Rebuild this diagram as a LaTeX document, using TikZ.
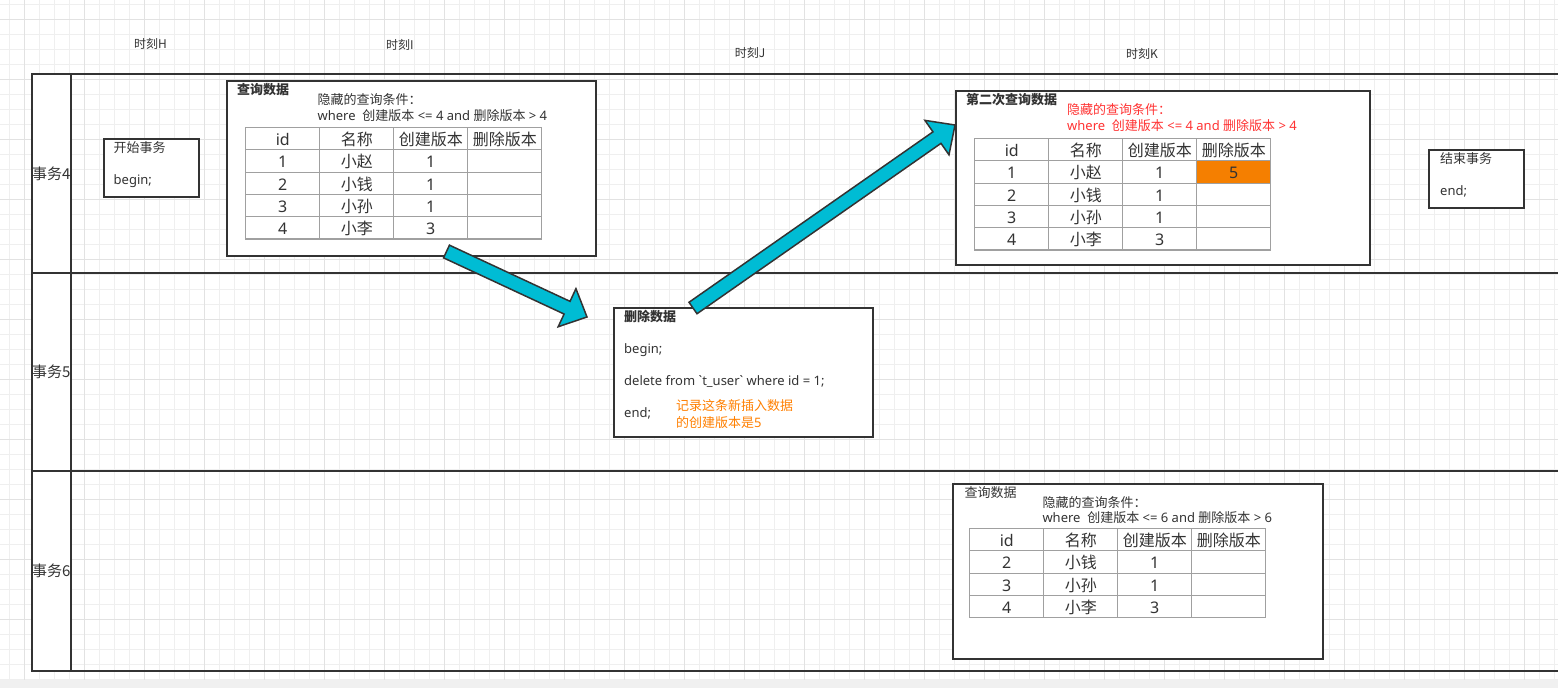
\documentclass[tikz,border=0pt]{standalone}
\usepackage{fontspec}
\newfontfamily\cjk{Noto Sans CJK SC}
\newfontfamily\lat{Noto Sans}
\newcommand{\zh}[1]{{\cjk #1}}
\usetikzlibrary{calc,matrix}
\definecolor{ink}{HTML}{333333}
\definecolor{gridminor}{HTML}{EFEFEF}
\definecolor{gridmajor}{HTML}{E2E2E2}
\definecolor{bandgray}{HTML}{F0F0F0}
\definecolor{tblgray}{HTML}{A0A0A0}
\definecolor{arrowcyan}{HTML}{00BCD4}
\definecolor{alertred}{HTML}{FF3333}
\definecolor{noteorange}{HTML}{FF8000}
\definecolor{cellorange}{HTML}{F57F00}

\tikzset{
  txt/.style={font=\lat\fontsize{13}{15.6}\selectfont, text=ink, inner sep=0pt, anchor=base west},
  ttl/.style={txt, font=\cjk\bfseries\fontsize{13}{15.6}\selectfont},
  tick/.style={font=\cjk\fontsize{12}{14}\selectfont, text=ink, inner sep=0pt, anchor=base},
  box/.style={draw=ink, line width=2pt, fill=white, outer sep=0pt, inner sep=0pt, anchor=north west},
  lanehead/.style={box, minimum width=39.2, font=\cjk\fontsize{15}{18}\selectfont, text=ink},
  lane/.style={draw=ink, line width=2pt},
  tbl/.style={matrix of nodes, nodes in empty cells, anchor=north west, inner sep=0pt,
    column sep=-1.2pt, row sep=-1.2pt,
    nodes={draw=tblgray, line width=1.2pt, fill=white, minimum width=74, minimum height=22.3,
      inner sep=0pt, text height=15pt, text depth=1pt, anchor=center,
      font=\lat\fontsize{16}{18}\selectfont, text=ink}},
  cyanarrow/.style={fill=arrowcyan, draw=ink, line width=1.5pt, line join=miter}
}

\newcommand{\fatarrow}[2]{%
  \path ($(#2)!22pt!(#1)$) coordinate (fab);
  \filldraw[cyanarrow] ($(#1)!7pt!90:(#2)$) -- ($(fab)!7pt!-90:(#1)$) -- ($(fab)!21pt!-90:(#1)$)
    -- (#2) -- ($(fab)!21pt!90:(#1)$) -- ($(fab)!7pt!90:(#1)$) -- ($(#1)!7pt!-90:(#2)$) -- cycle;}

\begin{document}
\begin{tikzpicture}[x=1pt, y=-1pt]
    \useasboundingbox (0,0) rectangle (1558,688);
    \foreach \gx in {0,...,103} \draw[gridminor, line width=1pt] ({9.3+15*\gx},0) -- ({9.3+15*\gx},679.5);
    \foreach \gy in {0,...,45} \draw[gridminor, line width=1pt] (0,{4.3+15*\gy}) -- (1558,{4.3+15*\gy});
    \foreach \gx in {0,...,25} \draw[gridmajor, line width=1pt] ({24.3+60*\gx},0) -- ({24.3+60*\gx},679.5);
    \foreach \gy in {0,...,10} \draw[gridmajor, line width=1pt] (0,{19.3+60*\gy}) -- (1558,{19.3+60*\gy});
    \fill[bandgray] (0,679.5) rectangle (1558,688);

    \node[tick] (tH) at (150.5,48.8) {时刻H};
    \node[tick] (tI) at (400,49) {时刻I};
    \node[tick] (tJ) at (750,57.6) {时刻J};
    \node[tick] (tK) at (1142,58.6) {时刻K};

    \node[lanehead, minimum height=198.7] (l4) at (31.6,74) {事务4};
    \node[lanehead, minimum height=198.3] (l5) at (31.6,272.7) {事务5};
    \node[lanehead, minimum height=200] (l6) at (31.6,471) {事务6};
    \draw[lane] (l4.north west) -- ++(1530,0);
    \draw[lane] (l4.south west) -- ++(1530,0);
    \draw[lane] (l5.south west) -- ++(1530,0);
    \draw[lane] (l6.south west) -- ++(1530,0);

    \node[box, minimum width=95.6, minimum height=58.6] (bgn) at (103.6,138.7) {};
    \node[txt] (bgn1) at (113.5,152) {\zh{开始事务}};
    \node[txt] (bgn2) at (113.5,184) {begin;};

    \node[box, minimum width=369, minimum height=175.3] (q1) at (227,80.7) {};
    \node[ttl] (q1t) at (237,94.5) {查询数据};
    \node[txt] (q1a) at (317.4,104.5) {\zh{隐藏的查询条件：}};
    \node[txt] (q1b) at (317.4,120.7) {where\ \ \zh{创建版本} <= 4 and \zh{删除版本} > 4};
    \matrix[tbl] (t1) at (245,126.7) {
        id & \zh{名称} & \zh{创建版本} & \zh{删除版本} \\
        1 & \zh{小赵} & 1 & \\
        2 & \zh{小钱} & 1 & \\
        3 & \zh{小孙} & 1 & \\
        4 & \zh{小李} & 3 & \\
    };

    \node[box, minimum width=259.3, minimum height=128.4] (del) at (614,308.3) {};
    \node[ttl] (del1) at (624,321.7) {删除数据};
    \node[txt] (del2) at (624,353) {begin;};
    \node[txt] (del3) at (624,385) {delete from `t\_user` where id = 1;};
    \node[txt] (del4) at (624,417) {end;};
    \node[txt, text=noteorange] (nt1) at (676,410) {\zh{记录这条新插入数据}};
    \node[txt, text=noteorange] (nt2) at (676,427.7) {\zh{的创建版本是}5};

    \node[box, minimum width=413.8, minimum height=174] (q2) at (955.7,91) {};
    \node[ttl] (q2t) at (966,104.5) {第二次查询数据};
    \node[txt, text=alertred] (q2a) at (1067,114.5) {\zh{隐藏的查询条件：}};
    \node[txt, text=alertred] (q2b) at (1067,130.7) {where\ \ \zh{创建版本} <= 4 and \zh{删除版本} > 4};
    \matrix[tbl] (t2) at (974,137.7) {
        id & \zh{名称} & \zh{创建版本} & \zh{删除版本} \\
        1 & \zh{小赵} & 1 & |[fill=cellorange]| 5 \\
        2 & \zh{小钱} & 1 & \\
        3 & \zh{小孙} & 1 & \\
        4 & \zh{小李} & 3 & \\
    };

    \node[box, minimum width=95, minimum height=57.7] (fin) at (1429,150) {};
    \node[txt] (fin1) at (1440,163.3) {\zh{结束事务}};
    \node[txt] (fin2) at (1440,195.5) {end;};

    \node[box, minimum width=370, minimum height=175] (q3) at (953.3,484) {};
    \node[txt] (q3t) at (964.3,497.7) {\zh{查询数据}};
    \node[txt] (q3a) at (1042.3,507.3) {\zh{隐藏的查询条件：}};
    \node[txt] (q3b) at (1042.3,522.7) {where\ \ \zh{创建版本} <= 6 and \zh{删除版本} > 6};
    \matrix[tbl] (t3) at (969,527.7) {
        id & \zh{名称} & \zh{创建版本} & \zh{删除版本} \\
        2 & \zh{小钱} & 1 & \\
        3 & \zh{小孙} & 1 & \\
        4 & \zh{小李} & 3 & \\
    };

    \coordinate (a1s) at (446.5,251.5);
    \coordinate (a1e) at (587,317);
    \coordinate (a2s) at (693,308);
    \coordinate (a2e) at (955,125);
    \fatarrow{a1s}{a1e}
    \fatarrow{a2s}{a2e}
\end{tikzpicture}
\end{document}
